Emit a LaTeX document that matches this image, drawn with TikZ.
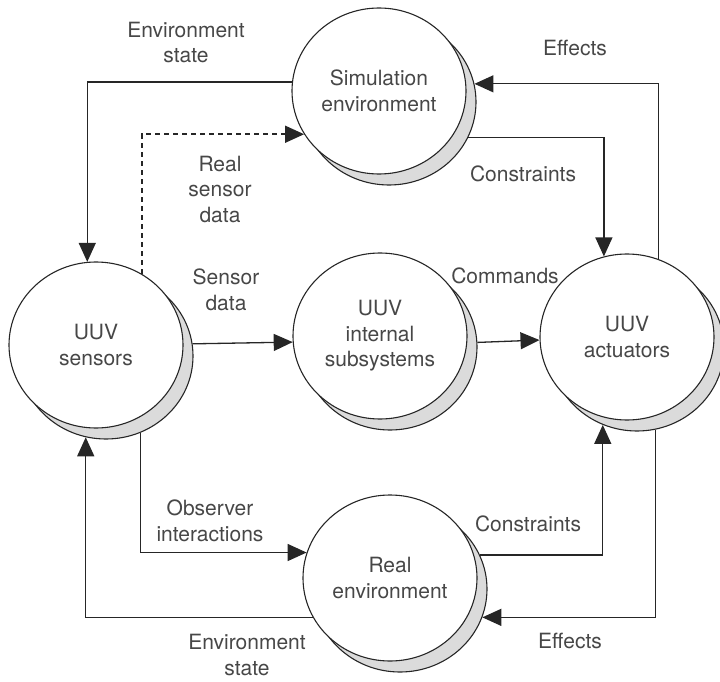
\documentclass[tikz,border=0pt]{standalone}
\usepackage{fontspec}
\setmainfont{TeX Gyre Heros}
\usetikzlibrary{arrows.meta,shapes.geometric}
\newcommand\lblfont{\fontsize{21}{25.5}\selectfont}
\begin{document}
\begin{tikzpicture}[x=1pt,y=-1pt,
  bub/.style={ellipse, draw=black!85, line width=1.1pt, fill=white,
    minimum width=174pt, minimum height=166pt, inner sep=0pt,
    align=center, font=\lblfont, text=black!72},
  shad/.style={ellipse, draw=black!85, line width=1.1pt, fill=black!14,
    minimum width=174pt, minimum height=166pt, inner sep=0pt},
  lbl/.style={align=center, anchor=base, font=\lblfont, text=black!72, inner sep=0pt},
  arr/.style={draw=black!85, line width=1.3pt, -{Triangle[length=19pt,width=17pt]}},
  dsh/.style={dash pattern=on 5pt off 4pt, line width=1.5pt}]
\useasboundingbox (0,0) rectangle (720,682);

% bubbles (shadow first, then main)
\node[shad] (simS) at (389,102) {};
\node[bub]  (sim)  at (379,91) {Simulation\\environment};
\node[shad] (sensorsS) at (106,356) {};
\node[bub]  (sensors)  at (96,345) {UUV\\sensors};
\node[shad] (internalS) at (390,347) {};
\node[bub]  (internal)  at (380,336) {UUV\\internal\\subsystems};
\node[shad] (actS) at (637,348) {};
\node[bub]  (act)  at (627,337) {UUV\\actuators};
\node[shad] (realS) at (400,589) {};
\node[bub]  (real)  at (390,578) {Real\\environment};

% connectors
\draw[arr] (sim.174.7) -| (sensors.96.2);
\draw[arr,dsh] (sensors.57.6) |- (sim.210.8);
\draw[arr] (sensorsS.8.6) -- (internal.184.6);
\draw[arr] (internalS.3.3) -- (act.182.6);
\draw[arr] (simS.336.1) -| (act.106.7);
\draw[arr] (act.68.9) |- (simS.12);
\draw[arr] (sensorsS.294.7) |- (real.163.9);
\draw[arr] (real.207.7) -| (sensorsS.256.8);
\draw[arr] (realS.23.2) -| (actS.246);
\draw[arr] (actS.283.9) |- (realS.341.1);

% labels
\node[lbl] (l1) at (186,63) {Environment\\state};
\node[lbl] (l2) at (575,56) {Effects};
\node[lbl] (l3) at (220,222) {Real\\sensor\\data};
\node[lbl] (l4) at (523,182) {Constraints};
\node[lbl] (l5) at (226,310) {Sensor\\data};
\node[lbl] (l6) at (505,283) {Commands};
\node[lbl] (l7) at (210,541) {Observer\\interactions};
\node[lbl] (l8) at (528,531) {Constraints};
\node[lbl] (l9) at (247,675) {Environment\\state};
\node[lbl] (l10) at (570,648) {Effects};
\end{tikzpicture}
\end{document}
